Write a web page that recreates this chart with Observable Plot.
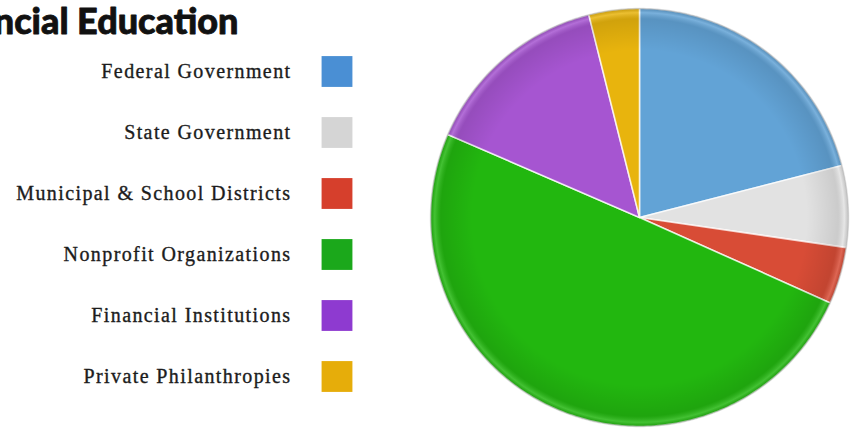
<!DOCTYPE html>
<html>
<head>
<meta charset="utf-8">
<script src="https://cdn.jsdelivr.net/npm/d3@7"></script>
<script src="https://cdn.jsdelivr.net/npm/@observablehq/plot@0.6"></script>
<style>
  html, body { margin: 0; padding: 0; background: #ffffff; overflow: hidden; }
  #chart { position: relative; width: 859px; height: 428px; overflow: hidden; }
  #chart > svg { position: absolute; left: 0; top: 0; }
</style>
</head>
<body>
<div id="chart"></div>
<script>
// ---- data ----
const titleText = "Financial Education";
const categories = [
  "Federal Government",
  "State Government",
  "Municipal & School Districts",
  "Nonprofit Organizations",
  "Financial Institutions",
  "Private Philanthropies"
];
const shares = [21.0, 6.3, 4.4, 49.8, 14.6, 3.9];
const sliceColors = ["#62a3d6", "#e2e2e2", "#d84c36", "#22b70f", "#a655d1", "#e8b40d"];
const swatchColors = ["#4a8fd4", "#d5d5d5", "#d63f2c", "#1ba81b", "#8e3ad0", "#e6ad0a"];

const rows = categories.map((c, i) => ({category: c, share: shares[i]}));

// ---- pie geometry derived from the data ----
const arcs = d3.pie().value(d => d.share).sort(null).startAngle(0).endAngle(2 * Math.PI)(rows);
const piePoints = [];
for (const a of arcs) {
  const cat = a.data.category;
  piePoints.push({category: cat, x: 0, y: 0});
  const n = Math.max(2, Math.ceil((a.endAngle - a.startAngle) / (Math.PI / 180)));
  for (let k = 0; k <= n; k++) {
    const t = a.startAngle + (a.endAngle - a.startAngle) * k / n;
    piePoints.push({category: cat, x: Math.sin(t), y: Math.cos(t)});
  }
  piePoints.push({category: cat, x: 0, y: 0});
}
const ring = d3.range(0, 361).map(d => ({x: Math.sin(d * Math.PI / 180), y: Math.cos(d * Math.PI / 180)}));

const chart = document.getElementById("chart");

// ---- legend + title ----
const legend = Plot.plot({
  width: 859,
  height: 428,
  margin: 0,
  style: {background: "transparent", overflow: "visible"},
  x: {domain: [0, 859], range: [0, 859], axis: null},
  y: {type: "point", domain: categories, range: [69, 378], padding: 0, axis: null},
  color: {type: "ordinal", domain: categories, range: swatchColors},
  marks: [
    Plot.text([titleText], {
      frameAnchor: "top-left", dx: 238, dy: 33, textAnchor: "end", lineAnchor: "bottom",
      fontFamily: "Lato", fontWeight: 900, fontSize: 36, fill: "#111111",
      stroke: "#111111", strokeWidth: 0.8, text: d => d
    }),
    Plot.text(rows, {
      x: () => 291, y: "category", text: "category", textAnchor: "end",
      fontFamily: "Liberation Serif", fontSize: 20, fill: "#1c1c1c",
      stroke: "#1c1c1c", strokeWidth: 0.35
    }),
    Plot.dot(rows, {
      x: () => 336.5, y: "category", symbol: "square", r: 17.4, fill: "category", stroke: "none"
    })
  ]
});
legend.querySelectorAll("text").forEach(t => {
  if (t.textContent !== titleText) t.setAttribute("letter-spacing", "1.4");
});
chart.appendChild(legend);

// ---- pie ----
const pie = Plot.plot({
  width: 859,
  height: 428,
  margin: 0,
  style: {background: "transparent"},
  x: {domain: [-1, 1], range: [430, 848], axis: null},
  y: {domain: [-1, 1], range: [426, 8], axis: null},
  color: {type: "ordinal", domain: categories, range: sliceColors},
  marks: [
    Plot.line(piePoints, {
      x: "x", y: "y", z: "category", fill: "category",
      stroke: "#ffffff", strokeOpacity: 0.75, strokeWidth: 1.6, strokeLinejoin: "round"
    }),
    Plot.line(ring, {x: "x", y: "y", fill: "url(#pieShade)", stroke: "none"}),
    Plot.line(ring, {x: "x", y: "y", fill: "none", stroke: "#000000", strokeOpacity: 0.12, strokeWidth: 1.5})
  ]
});
const svg = d3.select(pie);
const defs = svg.insert("defs", ":first-child");
const g = defs.append("radialGradient").attr("id", "pieShade").attr("cx", "0.5").attr("cy", "0.5").attr("r", "0.5");
g.append("stop").attr("offset", "0%").attr("stop-color", "#ffffff").attr("stop-opacity", 0.0);
g.append("stop").attr("offset", "80%").attr("stop-color", "#000000").attr("stop-opacity", 0.0);
g.append("stop").attr("offset", "95%").attr("stop-color", "#000000").attr("stop-opacity", 0.10);
g.append("stop").attr("offset", "98%").attr("stop-color", "#ffffff").attr("stop-opacity", 0.15);
g.append("stop").attr("offset", "100%").attr("stop-color", "#000000").attr("stop-opacity", 0.15);
chart.appendChild(pie);
</script>
</body>
</html>
